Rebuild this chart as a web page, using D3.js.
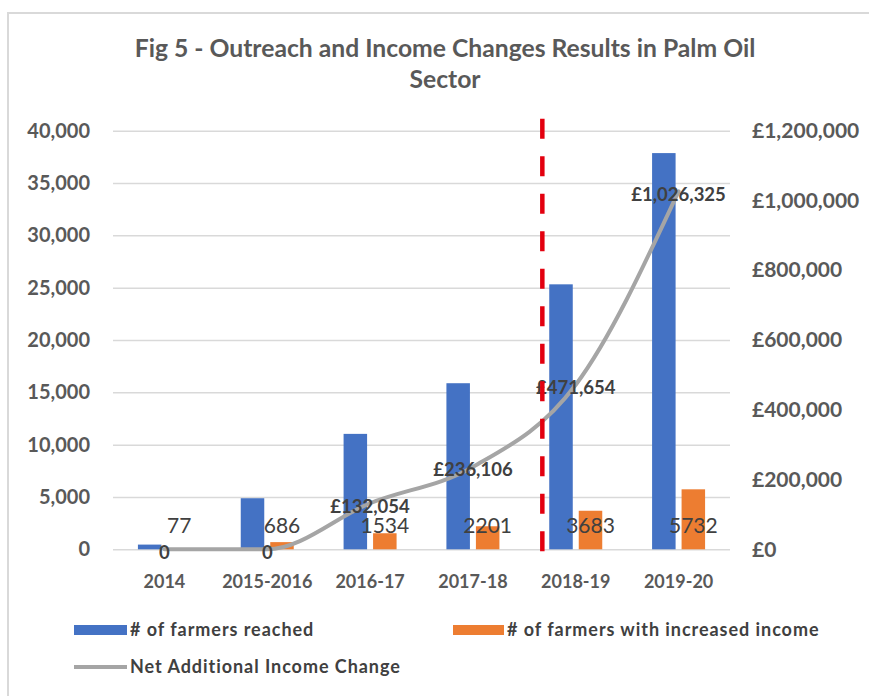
<!DOCTYPE html>
<html>
<head>
<meta charset="utf-8">
<script src="https://cdn.jsdelivr.net/npm/d3@7"></script>
<style>
  html, body { margin: 0; padding: 0; background: #fff; }
  svg { display: block; font-family: Lato, "Open Sans", sans-serif; }
</style>
</head>
<body>
<svg id="chart" width="869" height="696"></svg>
<script>
// ---------- data ----------
const categories = ["2014", "2015-2016", "2016-17", "2017-18", "2018-19", "2019-20"];
const farmersReached = [450, 4880, 11030, 15870, 25320, 37860];
const farmersIncreased = [77, 686, 1534, 2201, 3683, 5732];
const netIncome = [0, 0, 132054, 236106, 471654, 1026325];
const leftTicks = [0, 5000, 10000, 15000, 20000, 25000, 30000, 35000, 40000];
const rightTicks = [0, 200000, 400000, 600000, 800000, 1000000, 1200000];
const seriesNames = ["# of farmers reached", "# of farmers with increased income", "Net Additional Income Change"];
const titleLines = ["Fig 5 - Outreach and Income Changes Results in Palm Oil", "Sector"];
const markerCategory = "2018-19";

// ---------- layout ----------
const W = 869, H = 696;
const plotL = 113, plotR = 730, plotT = 130.7, plotB = 549.3;
const colBlue = "#4472c4", colOrange = "#ed7d31", colGray = "#a5a5a5";
const textDark = "#404040", textMid = "#595959";

const svg = d3.select("#chart");

// chart border
svg.append("rect").attr("x", 8).attr("y", 13).attr("width", 880).attr("height", 700)
  .attr("fill", "#fff").attr("stroke", "#d9d9d9").attr("stroke-width", 2);

// title
svg.append("g").selectAll("text").data(titleLines).join("text")
  .attr("x", 445).attr("y", (d, i) => 57 + i * 31)
  .attr("text-anchor", "middle").attr("font-weight", 700).attr("font-size", 24.7)
  .attr("fill", textMid).text(d => d);

// scales
const x = d3.scaleBand().domain(categories).range([plotL, plotR]);
const sub = d3.scaleBand().domain(["reached", "increased"])
  .range([x.bandwidth() / 2 - 26.5, x.bandwidth() / 2 + 26.5]).paddingInner(0.203);
const yL = d3.scaleLinear().domain([0, 40000]).range([plotB, plotT]);
const yR = d3.scaleLinear().domain([0, 1200000]).range([plotB, plotT]);

// left axis with gridlines
const gL = svg.append("g").attr("transform", `translate(${plotL},0)`)
  .call(d3.axisLeft(yL).tickValues(leftTicks).tickSize(-(plotR - plotL)).tickPadding(23)
    .tickFormat(d3.format(",")));
gL.select(".domain").remove();
gL.selectAll(".tick line").attr("stroke", "#d9d9d9").attr("stroke-width", 1.5);
gL.selectAll(".tick text").attr("fill", textMid).attr("font-size", 20).attr("font-weight", 700)
  .attr("font-family", "Lato, sans-serif");

// right axis
const gR = svg.append("g").attr("transform", `translate(${plotR},0)`)
  .call(d3.axisRight(yR).tickValues(rightTicks).tickSize(0).tickPadding(22)
    .tickFormat(d => "£" + d3.format(",")(d)));
gR.select(".domain").remove();
gR.selectAll(".tick text").attr("fill", textMid).attr("font-size", 21).attr("font-weight", 700)
  .attr("font-family", "Lato, sans-serif");

// x axis
const gX = svg.append("g").attr("transform", `translate(0,${plotB})`)
  .call(d3.axisBottom(x).tickSize(0).tickPadding(26));
gX.select(".domain").remove();
gX.selectAll(".tick text").attr("fill", textMid).attr("font-size", 18).attr("font-weight", 700)
  .attr("font-family", "Lato, sans-serif");

// bars
const barData = categories.map((c, i) => ({ c, reached: farmersReached[i], increased: farmersIncreased[i] }));
const gBars = svg.append("g");
gBars.selectAll("rect.reached").data(barData).join("rect").attr("class", "reached")
  .attr("x", d => x(d.c) + sub("reached")).attr("width", sub.bandwidth())
  .attr("y", d => yL(d.reached)).attr("height", d => yL(0) - yL(d.reached))
  .attr("fill", colBlue);
gBars.selectAll("rect.increased").data(barData).join("rect").attr("class", "increased")
  .attr("x", d => x(d.c) + sub("increased")).attr("width", sub.bandwidth())
  .attr("y", d => yL(d.increased)).attr("height", d => yL(0) - yL(d.increased))
  .attr("fill", colOrange);

// line
const lineData = categories.map((c, i) => ({ c, v: netIncome[i] }));
const line = d3.line().x(d => x(d.c) + x.bandwidth() / 2).y(d => yR(d.v))
  .curve(d3.curveMonotoneX);
svg.append("path").datum(lineData).attr("d", line)
  .attr("fill", "none").attr("stroke", colGray).attr("stroke-width", 4).attr("stroke-linecap", "round");

// orange data labels
svg.append("g").selectAll("text").data(barData).join("text")
  .attr("x", d => x(d.c) + sub("increased") + sub.bandwidth() / 2)
  .attr("y", plotB - 16.3)
  .attr("text-anchor", "middle").attr("font-size", 21).attr("fill", textDark)
  .text(d => d.increased);

// line data labels
svg.append("g").selectAll("text").data(lineData).join("text")
  .attr("x", d => x(d.c) + x.bandwidth() / 2)
  .attr("y", d => yR(d.v) + 3)
  .attr("dy", "0.35em")
  .attr("text-anchor", "middle").attr("font-size", 18.5).attr("font-weight", 700).attr("fill", textDark)
  .text(d => d.v === 0 ? "0" : "£" + d3.format(",")(d.v));

// red dashed marker line
const mx = x(markerCategory) + 18;
svg.append("line").attr("x1", mx).attr("x2", mx).attr("y1", plotT - 12).attr("y2", plotB + 3)
  .attr("stroke", "#e3000f").attr("stroke-width", 4.5).attr("stroke-dasharray", "20 17.5");

// legend
const lg = svg.append("g");
lg.append("rect").attr("x", 74).attr("y", 625).attr("width", 53).attr("height", 10).attr("fill", colBlue);
lg.append("text").attr("x", 130).attr("y", 636).text(seriesNames[0]);
lg.append("rect").attr("x", 453).attr("y", 625).attr("width", 51).attr("height", 10).attr("fill", colOrange);
lg.append("text").attr("x", 507).attr("y", 636).text(seriesNames[1]);
lg.append("line").attr("x1", 74).attr("x2", 127).attr("y1", 667).attr("y2", 667)
  .attr("stroke", colGray).attr("stroke-width", 4);
lg.append("text").attr("x", 130).attr("y", 673).text(seriesNames[2]);
lg.selectAll("text").attr("font-size", 18).attr("font-weight", 700).attr("letter-spacing", 0.95)
  .attr("fill", textDark);
</script>
</body>
</html>
